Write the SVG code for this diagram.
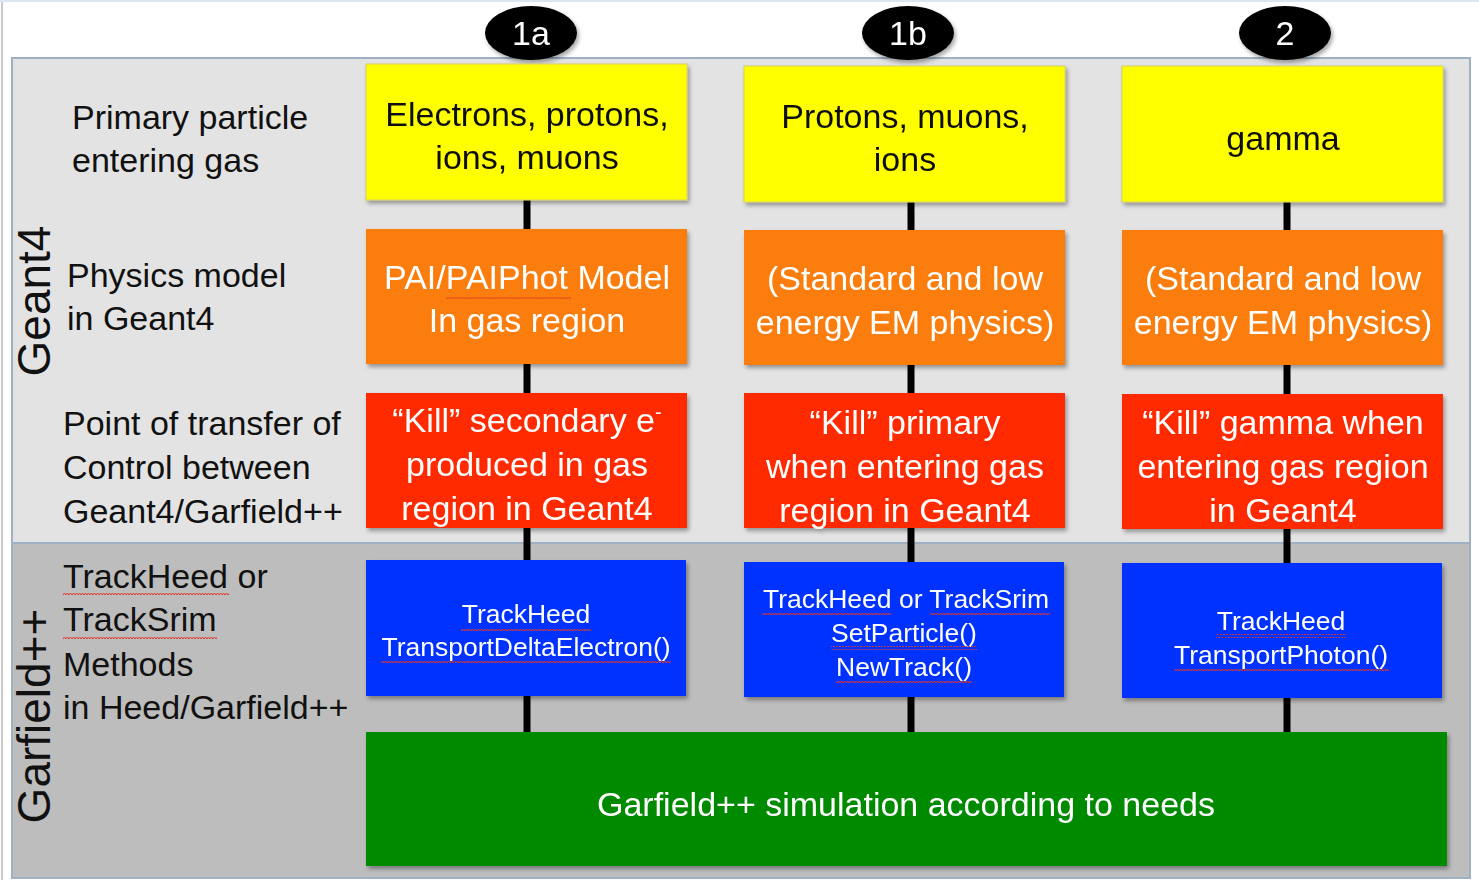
<svg xmlns="http://www.w3.org/2000/svg" width="1479" height="880" viewBox="0 0 1479 880">
<defs>
<filter id="sh" x="-5%" y="-5%" width="112%" height="115%">
<feGaussianBlur in="SourceAlpha" stdDeviation="2"/>
<feOffset dx="2" dy="3"/>
<feComponentTransfer><feFuncA type="linear" slope="0.35"/></feComponentTransfer>
<feMerge><feMergeNode/><feMergeNode in="SourceGraphic"/></feMerge>
</filter>
<pattern id="wavy" width="6" height="4" patternUnits="userSpaceOnUse">
<path d="M0 3 L1.5 1 L3 3 L4.5 1 L6 3" fill="none" stroke="#e0342a" stroke-width="1"/>
</pattern>
</defs>
<style>
text{font-family:"Liberation Sans",Arial,sans-serif;}
.lbl{font-size:34px;fill:#111;}
.dk{font-size:34px;fill:#111;text-anchor:middle;}
.wt{font-size:34px;fill:#fff;text-anchor:middle;}
.sm{font-size:26.5px;fill:#fff;text-anchor:middle;}
.side{font-size:46px;fill:#111;text-anchor:middle;}
.num{font-size:34px;fill:#fff;text-anchor:middle;}
.conn{stroke:#000;stroke-width:7;}
.sq{fill:url(#wavy);}
</style>
<rect x="0" y="0" width="1479" height="880" fill="#fff"/>
<line x1="2" y1="0" x2="2" y2="880" stroke="#c8c8c8" stroke-width="2"/>
<line x1="0" y1="1" x2="1479" y2="1" stroke="#dbe6f0" stroke-width="2"/>
<g id="panel-geant4">
<rect x="12" y="58" width="1458" height="485" fill="#e3e3e3" stroke="#9fb0c4" stroke-width="2"/>
<text class="side" transform="translate(50,301) rotate(-90)">Geant4</text>
</g>
<g id="panel-garfield">
<rect x="12" y="543" width="1458" height="335" fill="#bdbdbd" stroke="#9fb0c4" stroke-width="2"/>
<text class="side" transform="translate(50,716) rotate(-90)">Garfield++</text>
</g>
<g id="connectors">
<line class="conn" x1="527" y1="200" x2="527" y2="229"/>
<line class="conn" x1="527" y1="364" x2="527" y2="393"/>
<line class="conn" x1="527" y1="528" x2="527" y2="560"/>
<line class="conn" x1="527" y1="696" x2="527" y2="732"/>
<line class="conn" x1="911" y1="202" x2="911" y2="230"/>
<line class="conn" x1="911" y1="365" x2="911" y2="393"/>
<line class="conn" x1="911" y1="528" x2="911" y2="562"/>
<line class="conn" x1="911" y1="697" x2="911" y2="732"/>
<line class="conn" x1="1287" y1="202" x2="1287" y2="230"/>
<line class="conn" x1="1287" y1="365" x2="1287" y2="394"/>
<line class="conn" x1="1287" y1="529" x2="1287" y2="563"/>
<line class="conn" x1="1287" y1="698" x2="1287" y2="732"/>
</g>
<g id="row-labels">
<text class="lbl" x="72" y="129">Primary particle</text>
<text class="lbl" x="72" y="172">entering gas</text>
<text class="lbl" x="67" y="287">Physics model</text>
<text class="lbl" x="67" y="330">in Geant4</text>
<text class="lbl" x="63" y="435">Point of transfer of</text>
<text class="lbl" x="63" y="479">Control between</text>
<text class="lbl" x="63" y="523">Geant4/Garfield++</text>
<text class="lbl" x="63" y="588">TrackHeed or</text>
<rect class="sq" x="63" y="592" width="166" height="4"/>
<text class="lbl" x="63" y="631">TrackSrim</text>
<rect class="sq" x="63" y="635" width="154" height="4"/>
<text class="lbl" x="63" y="676">Methods</text>
<text class="lbl" x="63" y="719">in Heed/Garfield++</text>
</g>
<g id="badge-1a" filter="url(#sh)">
<ellipse cx="531" cy="33" rx="46" ry="27" fill="#000"/>
<text class="num" x="531" y="45">1a</text>
</g>
<g id="badge-1b" filter="url(#sh)">
<ellipse cx="908" cy="33" rx="46" ry="27" fill="#000"/>
<text class="num" x="908" y="45">1b</text>
</g>
<g id="badge-2" filter="url(#sh)">
<ellipse cx="1285" cy="33" rx="46" ry="27" fill="#000"/>
<text class="num" x="1285" y="45">2</text>
</g>
<g id="n1a-primary" filter="url(#sh)">
<rect x="366" y="64" width="321" height="136" fill="#ffff00" stroke="#d4d060" stroke-width="1"/>
<text class="dk" x="527" y="126">Electrons, protons,</text>
<text class="dk" x="527" y="169">ions, muons</text>
</g>
<g id="n1b-primary" filter="url(#sh)">
<rect x="744" y="66" width="321" height="136" fill="#ffff00" stroke="#d4d060" stroke-width="1"/>
<text class="dk" x="905" y="128">Protons, muons,</text>
<text class="dk" x="905" y="171">ions</text>
</g>
<g id="n2-primary" filter="url(#sh)">
<rect x="1122" y="66" width="321" height="136" fill="#ffff00" stroke="#d4d060" stroke-width="1"/>
<text class="dk" x="1283" y="150">gamma</text>
</g>
<g id="n1a-physics" filter="url(#sh)">
<rect x="366" y="229" width="321" height="135" fill="#fa7d0c"/>
<text class="wt" x="527" y="289">PAI/PAIPhot Model</text>
<rect class="sq" x="446" y="295" width="125" height="4" opacity="0.7"/>
<text class="wt" x="527" y="332">In gas region</text>
</g>
<g id="n1b-physics" filter="url(#sh)">
<rect x="744" y="230" width="321" height="135" fill="#fa7d0c"/>
<text class="wt" x="905" y="290">(Standard and low</text>
<text class="wt" x="905" y="334">energy EM physics)</text>
</g>
<g id="n2-physics" filter="url(#sh)">
<rect x="1122" y="230" width="321" height="135" fill="#fa7d0c"/>
<text class="wt" x="1283" y="290">(Standard and low</text>
<text class="wt" x="1283" y="334">energy EM physics)</text>
</g>
<g id="n1a-kill" filter="url(#sh)">
<rect x="366" y="393" width="321" height="135" fill="#ff2a00"/>
<text class="wt" x="527" y="432">“Kill” secondary e<tspan dy="-13" font-size="20">-</tspan></text>
<text class="wt" x="527" y="476">produced in gas</text>
<text class="wt" x="527" y="520">region in Geant4</text>
</g>
<g id="n1b-kill" filter="url(#sh)">
<rect x="744" y="393" width="321" height="135" fill="#ff2a00"/>
<text class="wt" x="905" y="434">“Kill” primary</text>
<text class="wt" x="905" y="478">when entering gas</text>
<text class="wt" x="905" y="522">region in Geant4</text>
</g>
<g id="n2-kill" filter="url(#sh)">
<rect x="1122" y="394" width="321" height="135" fill="#ff2a00"/>
<text class="wt" x="1283" y="434">“Kill” gamma when</text>
<text class="wt" x="1283" y="478">entering gas region</text>
<text class="wt" x="1283" y="522">in Geant4</text>
</g>
<g id="n1a-method" filter="url(#sh)">
<rect x="366" y="560" width="320" height="136" fill="#0433ff"/>
<text class="sm" x="526" y="623">TrackHeed</text>
<rect class="sq" x="461" y="627" width="130" height="4"/>
<text class="sm" x="526" y="656">TransportDeltaElectron()</text>
<rect class="sq" x="381" y="660" width="290" height="4"/>
</g>
<g id="n1b-method" filter="url(#sh)">
<rect x="744" y="562" width="320" height="135" fill="#0433ff"/>
<text class="sm" x="906" y="608">TrackHeed or TrackSrim</text>
<rect class="sq" x="762" y="612" width="129" height="4"/>
<rect class="sq" x="930" y="612" width="120" height="4"/>
<text class="sm" x="904" y="642">SetParticle()</text>
<rect class="sq" x="831" y="646" width="146" height="4"/>
<text class="sm" x="904" y="676">NewTrack()</text>
<rect class="sq" x="836" y="680" width="136" height="4"/>
</g>
<g id="n2-method" filter="url(#sh)">
<rect x="1122" y="563" width="320" height="135" fill="#0433ff"/>
<text class="sm" x="1281" y="630">TrackHeed</text>
<rect class="sq" x="1216" y="634" width="130" height="4"/>
<text class="sm" x="1281" y="664">TransportPhoton()</text>
<rect class="sq" x="1174" y="668" width="215" height="4"/>
</g>
<g id="sim" filter="url(#sh)">
<rect x="366" y="732" width="1081" height="134" fill="#038a03"/>
<text class="wt" x="906" y="816">Garfield++ simulation according to needs</text>
</g>
</svg>
